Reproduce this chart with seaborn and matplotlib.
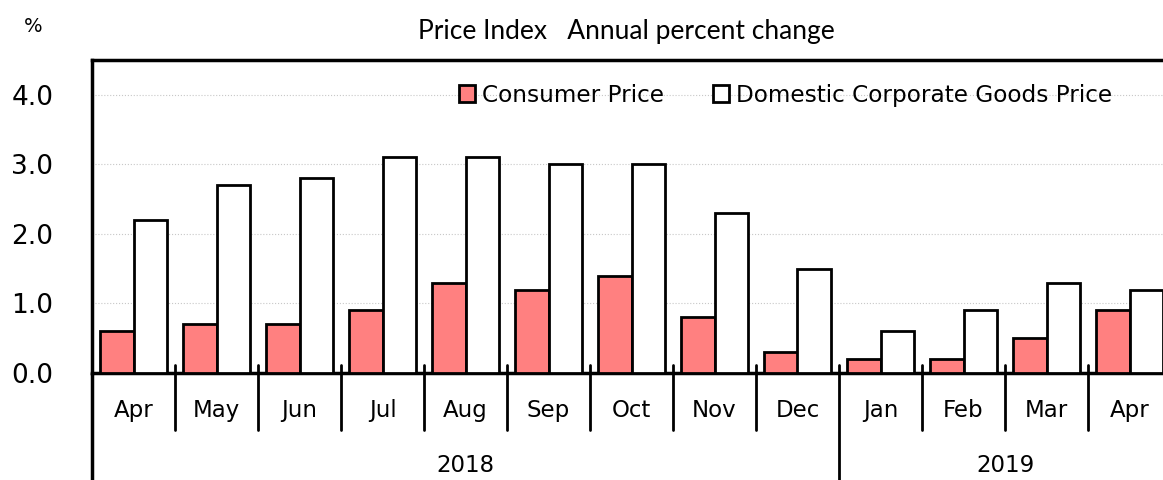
import numpy as np
import pandas as pd
import matplotlib
matplotlib.use('Agg')
import matplotlib.pyplot as plt
import matplotlib.transforms as mtransforms
from matplotlib.patches import Patch
import seaborn as sns

# dados
meses = ['Apr', 'May', 'Jun', 'Jul', 'Aug', 'Sep', 'Oct', 'Nov', 'Dec',
         'Jan', 'Feb', 'Mar', 'Apr']
anos = ['2018', '2019']
meses_por_ano = [9, 4]
consumer = [0.6, 0.7, 0.7, 0.9, 1.3, 1.2, 1.4, 0.8, 0.3, 0.2, 0.2, 0.5, 0.9]
corporate = [2.2, 2.7, 2.8, 3.1, 3.1, 3.0, 3.0, 2.3, 1.5, 0.6, 0.9, 1.3, 1.2]
series = ['Consumer Price', 'Domestic Corporate Goods Price']

sns.set_style('white')
plt.rcParams['font.family'] = ['DejaVu Sans']
plt.rcParams['text.color'] = 'black'
plt.rcParams['xtick.color'] = 'black'
plt.rcParams['ytick.color'] = 'black'

chaves = [f'{i:02d}' for i in range(len(meses))]
df = pd.DataFrame({
    'mes': chaves * 2,
    'serie': [series[0]] * len(meses) + [series[1]] * len(meses),
    'valor': consumer + corporate,
})

fig = plt.figure(figsize=(11.63, 4.8), dpi=100)
ax = fig.add_axes([92 / 1163, 107 / 480, 1079 / 1163, 313 / 480])

sns.barplot(data=df, x='mes', y='valor', hue='serie', order=chaves,
            palette={series[0]: '#FF8080', series[1]: 'white'},
            saturation=1, edgecolor='black', linewidth=2, width=0.8,
            ax=ax, legend=False, zorder=3)

ax.set_xlim(-0.5, len(meses) - 0.5)
ax.set_ylim(0, 4.5)
ax.set_yticks([0, 1, 2, 3, 4])
ax.set_yticklabels([f'{v:.1f}' for v in [0, 1, 2, 3, 4]], fontsize=19)
ax.tick_params(axis='y', direction='in', length=10, width=2, pad=58)
for t in ax.get_yticklabels():
    t.set_horizontalalignment('left')
ax.set_xticks(range(len(meses)))
ax.set_xticklabels(meses, fontsize=16.5)
ax.tick_params(axis='x', length=0, pad=19)
ax.set_xlabel('')
ax.set_ylabel('')
ax.yaxis.grid(True, linestyle=':', color='#c8c8c8', linewidth=0.8, zorder=0)
ax.set_axisbelow(True)

for lado in ['left', 'top', 'bottom']:
    ax.spines[lado].set_linewidth(2.5)
    ax.spines[lado].set_color('black')
ax.spines['right'].set_visible(False)

# separadores dos meses e dos anos abaixo do eixo
trans = mtransforms.blended_transform_factory(ax.transData, ax.transAxes)
fronteiras = np.cumsum(meses_por_ano)[:-1] - 0.5
for i in range(1, len(meses)):
    xb = i - 0.5
    baixo = -0.342 if xb in fronteiras else -0.182
    ax.plot([xb, xb], [0.026, baixo], color='black', lw=2,
            transform=trans, clip_on=False, zorder=5)
ax.plot([-0.5, -0.5], [0, -0.4], color='black', lw=2.5,
        transform=trans, clip_on=False)

inicio = 0
for ano, n in zip(anos, meses_por_ano):
    ax.text(inicio + (n - 1) / 2, -0.294, ano, transform=trans,
            ha='center', va='center', fontsize=16.5)
    inicio += n

handles = [Patch(facecolor='#FF8080', edgecolor='black', linewidth=2),
           Patch(facecolor='white', edgecolor='black', linewidth=2)]
ax.legend(handles, series, loc='upper left', bbox_to_anchor=(0.321, 0.99),
          ncol=2, frameon=False, fontsize=16.7, handlelength=0.7,
          handleheight=0.75, handletextpad=0.3, columnspacing=2.1)

fig.text(626 / 1163, 1 - 31 / 480, 'Price Index   Annual percent change',
         ha='center', va='center', fontsize=19, family=['Lato', 'DejaVu Sans'])
fig.text(33 / 1163, 1 - 27 / 480, '%', ha='center', va='center', fontsize=14)

plt.savefig('out.png', dpi=100)
